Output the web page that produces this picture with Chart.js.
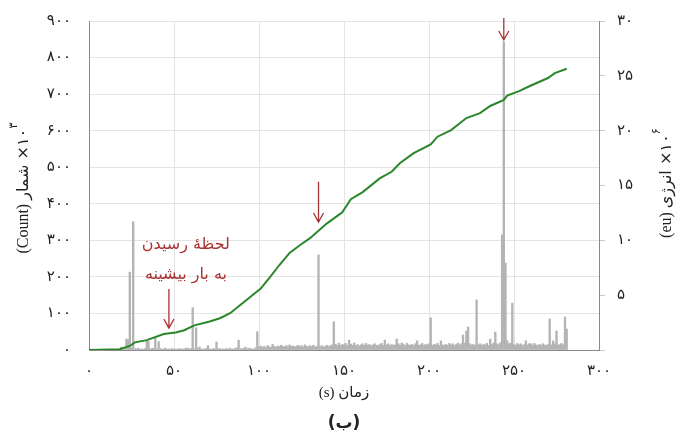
<!DOCTYPE html>
<html>
<head>
<meta charset="utf-8">
<script src="https://cdn.jsdelivr.net/npm/chart.js@4"></script>
<style>
  body { margin: 0; background: #fff; }
</style>
</head>
<body>
<canvas id="chart" width="679" height="438"></canvas>
<script>
// counts per 1 s bin, starting at 0 s (left axis, x10^3)
var binCounts = [
    0, 0, 0, 0, 0, 0, 0, 0, 0, 0,
    0, 0, 0, 0, 0, 0, 0, 0, 2, 8,
    3, 5, 30, 28, 213, 6, 351, 4, 3, 5,
    2, 3, 2, 4, 25, 24, 3, 4, 5, 32,
    3, 23, 4, 2, 3, 5, 2, 3, 2, 4,
    2, 3, 2, 4, 3, 2, 3, 5, 5, 3,
    4, 116, 3, 61, 4, 8, 3, 2, 3, 4,
    12, 3, 2, 4, 3, 22, 3, 4, 2, 3,
    2, 4, 3, 5, 2, 3, 4, 6, 27, 4,
    3, 4, 8, 3, 5, 4, 3, 2, 6, 50,
    8, 11, 7, 10, 6, 12, 9, 7, 15, 10,
    7, 11, 9, 13, 10, 8, 12, 9, 14, 10,
    11, 8, 10, 13, 9, 12, 8, 14, 10, 9,
    12, 9, 13, 8, 10, 260, 9, 12, 8, 10,
    13, 9, 12, 14, 77, 16, 12, 19, 13, 15,
    14, 18, 12, 27, 16, 13, 19, 12, 15, 11,
    14, 17, 12, 18, 13, 15, 11, 14, 17, 13,
    12, 15, 18, 13, 27, 14, 17, 12, 15, 13,
    14, 30, 17, 13, 19, 15, 12, 18, 14, 13,
    15, 12, 17, 25, 13, 14, 18, 12, 15, 14,
    17, 88, 13, 15, 14, 18, 12, 25, 14, 13,
    15, 13, 18, 14, 17, 12, 15, 19, 14, 17,
    41, 19, 52, 63, 17, 14, 15, 13, 137, 14,
    17, 13, 15, 14, 18, 12, 30, 15, 19, 49,
    17, 14, 20, 315, 843, 238, 25, 17, 19, 128,
    15, 13, 18, 14, 17, 12, 15, 25, 14, 17,
    17, 13, 18, 14, 12, 15, 13, 17, 14, 12,
    15, 85, 14, 25, 17, 52, 13, 15, 18, 14,
    90, 57
];
var binStart = 0;
var binWidth = 1;

// cumulative energy (right axis, x10^6 eu)
var energyTimes = [0, 18, 24, 27, 34, 44, 51, 56, 62, 71, 77, 83, 89, 95, 101, 106, 112, 118, 124, 130,
    140, 149, 154, 161, 171, 178, 183, 191, 201, 205, 213, 222, 230, 236, 244, 246, 253, 259, 270, 274, 281];
var energyValues = [0, 0.07, 0.37, 0.7, 0.9, 1.45, 1.6, 1.8, 2.25, 2.6, 2.9, 3.35, 4.1, 4.85, 5.6, 6.55, 7.75, 8.85, 9.55, 10.2,
    11.55, 12.55, 13.75, 14.4, 15.65, 16.25, 17.05, 17.95, 18.75, 19.45, 20.05, 21.15, 21.6, 22.25, 22.8, 23.2, 23.6, 24.05, 24.8, 25.25, 25.65];

var xTickLabels = ['۰', '۵۰', '۱۰۰', '۱۵۰', '۲۰۰', '۲۵۰', '۳۰۰'];
var yTickLabels = ['۰', '۱۰۰', '۲۰۰', '۳۰۰', '۴۰۰', '۵۰۰', '۶۰۰', '۷۰۰', '۸۰۰', '۹۰۰'];
var y1TickLabels = ['', '۵', '۱۰', '۱۵', '۲۰', '۲۵', '۳۰'];

// arrows in data units (x in s, y on left axis)
var arrowX = [47, 135, 244];
var arrowFrom = [167, 460, 908];
var arrowTo = [60, 350, 848];
var noteLines = ['لحظهٔ رسیدن', 'به بار بیشینه'];
var noteX = 57;
var noteY = [287, 205];

var red = '#a83434';
var latin = "'Liberation Serif', 'DejaVu Serif', serif";
var persian = "'DejaVu Sans', sans-serif";

var barData = [];
for (var i = 0; i < binCounts.length; i++) {
    barData.push({x: binStart + i * binWidth, y: binCounts[i]});
}
var lineData = [];
for (var j = 0; j < energyTimes.length; j++) {
    lineData.push({x: energyTimes[j], y: energyValues[j]});
}

// draws pieces left to right along current x axis
function drawPieces(ctx, pieces, startX, y) {
    var x = startX;
    pieces.forEach(function (p) {
        ctx.font = p.font;
        ctx.fillText(p.text, x, y + (p.dy || 0));
        x += ctx.measureText(p.text).width;
    });
}
function piecesWidth(ctx, pieces) {
    var w = 0;
    pieces.forEach(function (p) {
        ctx.font = p.font;
        w += ctx.measureText(p.text).width;
    });
    return w;
}

var extras = {
    id: 'extras',
    afterDatasetsDraw: function (chart) {
        var ctx = chart.ctx;
        var xs = chart.scales.x, ys = chart.scales.y;
        ctx.save();
        ctx.strokeStyle = red;
        ctx.lineWidth = 1.3;
        for (var k = 0; k < arrowX.length; k++) {
            var px = xs.getPixelForValue(arrowX[k]);
            var top = ys.getPixelForValue(arrowFrom[k]);
            var tip = ys.getPixelForValue(arrowTo[k]);
            ctx.beginPath();
            ctx.moveTo(px, top);
            ctx.lineTo(px, tip);
            ctx.moveTo(px - 5, tip - 9);
            ctx.lineTo(px, tip);
            ctx.lineTo(px + 5, tip - 9);
            ctx.stroke();
        }
        ctx.fillStyle = red;
        ctx.font = '16px ' + persian;
        ctx.textAlign = 'center';
        ctx.textBaseline = 'middle';
        for (var n = 0; n < noteLines.length; n++) {
            ctx.fillText(noteLines[n], xs.getPixelForValue(noteX), ys.getPixelForValue(noteY[n]));
        }
        ctx.restore();
    },
    afterDraw: function (chart) {
        var ctx = chart.ctx;
        var area = chart.chartArea;
        var mid = (area.left + area.right) / 2;
        ctx.save();
        ctx.fillStyle = '#222';
        ctx.textBaseline = 'middle';
        ctx.textAlign = 'left';

        var leftTitle = [
            {text: '(Count) ', font: '16px ' + latin},
            {text: 'شمار', font: '16px ' + persian},
            {text: ' ×۱۰', font: '16px ' + persian},
            {text: '۳', font: '12px ' + persian, dy: -10}
        ];
        ctx.save();
        ctx.translate(24, 188);
        ctx.rotate(-Math.PI / 2);
        drawPieces(ctx, leftTitle, -piecesWidth(ctx, leftTitle) / 2, 0);
        ctx.restore();

        var rightTitle = [
            {text: '(eu) ', font: '16px ' + latin},
            {text: 'انرژی', font: '16px ' + persian},
            {text: ' ×۱۰', font: '16px ' + persian},
            {text: '۶', font: '12px ' + persian, dy: -10}
        ];
        ctx.save();
        ctx.translate(667, 183);
        ctx.rotate(-Math.PI / 2);
        drawPieces(ctx, rightTitle, -piecesWidth(ctx, rightTitle) / 2, 0);
        ctx.restore();

        var xTitle = [
            {text: '(s) ', font: '15px ' + latin},
            {text: 'زمان', font: '15px ' + persian}
        ];
        drawPieces(ctx, xTitle, mid - piecesWidth(ctx, xTitle) / 2, 393);

        ctx.textAlign = 'center';
        ctx.font = 'bold 17px ' + persian;
        ctx.fillText('(ب)', mid, 424);
        ctx.restore();
    }
};

function fixWidth(w) {
    return function (s) {
        s.width = w;
        s.paddingTop = 0;
        s.paddingBottom = 0;
    };
}

new Chart(document.getElementById('chart'), {
    type: 'bar',
    data: {
        datasets: [{
            type: 'line',
            data: lineData,
            yAxisID: 'y1',
            borderColor: '#2a862a',
            borderWidth: 2,
            pointRadius: 0,
            tension: 0,
            order: 0
        }, {
            type: 'bar',
            data: barData,
            yAxisID: 'y',
            backgroundColor: '#b4b4b4',
            barPercentage: 1,
            categoryPercentage: 1,
            order: 1
        }]
    },
    plugins: [extras],
    options: {
        responsive: false,
        animation: false,
        layout: {padding: {top: 21, left: 0, right: 0, bottom: 0}},
        plugins: {legend: {display: false}, tooltip: {enabled: false}},
        scales: {
            x: {
                type: 'linear',
                min: 0,
                max: 300,
                offset: false,
                afterFit: function (s) { s.height = 88; },
                grid: {color: '#e4e4e4', drawTicks: false, offset: false},
                border: {color: '#8a8a8a'},
                ticks: {
                    stepSize: 50,
                    padding: 12,
                    color: '#222',
                    font: {family: persian, size: 15},
                    callback: function (v, i) { return xTickLabels[i]; }
                }
            },
            y: {
                position: 'left',
                min: 0,
                max: 900,
                afterFit: fixWidth(89),
                grid: {color: '#e4e4e4', drawTicks: false},
                border: {color: '#8a8a8a'},
                ticks: {
                    stepSize: 100,
                    padding: 18,
                    color: '#222',
                    font: {family: persian, size: 15},
                    callback: function (v, i) { return yTickLabels[i]; }
                }
            },
            y1: {
                position: 'right',
                min: 0,
                max: 30,
                afterFit: fixWidth(80),
                grid: {drawOnChartArea: false, color: '#c8c8c8', tickLength: 6},
                border: {color: '#8a8a8a'},
                ticks: {
                    stepSize: 5,
                    padding: 12,
                    color: '#222',
                    font: {family: persian, size: 15},
                    callback: function (v, i) { return y1TickLabels[i]; }
                }
            }
        }
    }
});
</script>
</body>
</html>
